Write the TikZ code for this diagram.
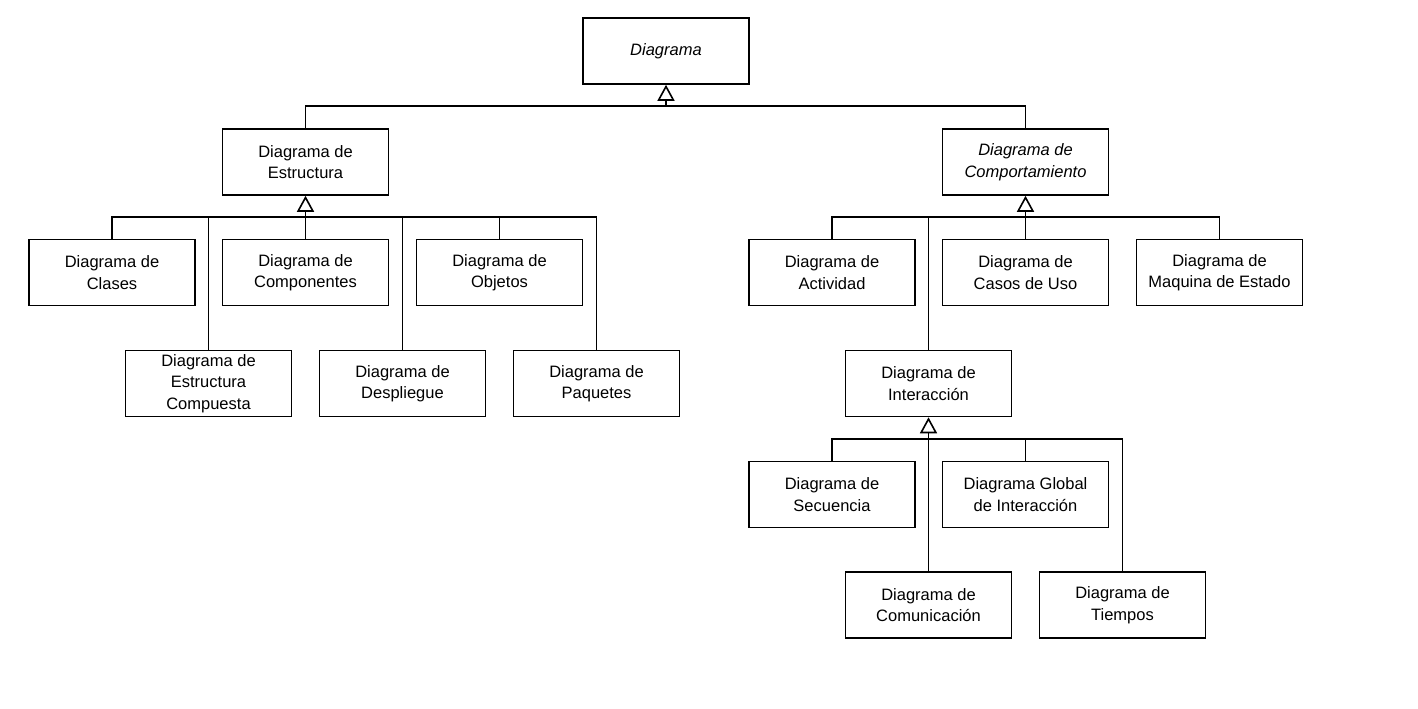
\documentclass[tikz,border=0pt]{standalone}
\usepackage{fontspec}
\setmainfont{Liberation Sans}
\usetikzlibrary{arrows.meta}
\begin{document}
\begin{tikzpicture}[x=1pt,y=-1pt,
  box/.style={draw,line width=1.6pt,minimum width=166pt,minimum height=66pt,inner sep=0pt,align=center,font=\fontsize{16.5}{21.5}\selectfont},
  conn/.style={line width=1.6pt},
  gen/.style={line width=1.6pt,-{Triangle[open,length=16pt,width=17pt,line width=1.6pt]}}]
\useasboundingbox (0,0) rectangle (1418,709);
% top
\node[box] (d) at (666,51) {\textit{Diagrama}};
\node[box] (est) at (305.5,162) {Diagrama de\\Estructura};
\node[box] (comp) at (1025.5,162) {\textit{Diagrama de}\\\textit{Comportamiento}};
% structure children
\node[box] (cla) at (112,272.5) {Diagrama de\\Clases};
\node[box] (cmp) at (305.5,272.5) {Diagrama de\\Componentes};
\node[box] (obj) at (499.5,272.5) {Diagrama de\\Objetos};
\node[box] (ecm) at (208.5,383.5) {Diagrama de\\Estructura\\Compuesta};
\node[box] (des) at (402.5,383.5) {Diagrama de\\Despliegue};
\node[box] (paq) at (596.5,383.5) {Diagrama de\\Paquetes};
% behaviour children
\node[box] (act) at (832,272.5) {Diagrama de\\Actividad};
\node[box] (cas) at (1025.5,272.5) {Diagrama de\\Casos de Uso};
\node[box] (maq) at (1219.5,272.5) {Diagrama de\\Maquina de Estado};
\node[box] (int) at (928.5,383.5) {Diagrama de\\Interacción};
% interaction children
\node[box] (sec) at (832,494.5) {Diagrama de\\Secuencia};
\node[box] (glo) at (1025.5,494.5) {Diagrama Global\\de Interacción};
\node[box] (com) at (928.5,605) {Diagrama de\\Comunicación};
\node[box] (tie) at (1122.5,605) {Diagrama de\\Tiempos};
% bars
\coordinate (b0) at (666,106);
\coordinate (b1) at (305.5,217);
\coordinate (b2) at (1025.5,217);
\coordinate (b3) at (928.5,439);
% level 0
\draw[conn] (est.north) -- (est.north |- b0) -- (comp.north |- b0) -- (comp.north);
\draw[gen] (b0) -- (d.south);
% structure
\draw[conn] (cla.north) -- (cla.north |- b1) -- (paq.north |- b1) -- (paq.north);
\draw[conn] (ecm.north) -- (ecm.north |- b1);
\draw[conn] (cmp.north) -- (cmp.north |- b1);
\draw[conn] (des.north) -- (des.north |- b1);
\draw[conn] (obj.north) -- (obj.north |- b1);
\draw[gen] (b1) -- (est.south);
% behaviour
\draw[conn] (act.north) -- (act.north |- b2) -- (maq.north |- b2) -- (maq.north);
\draw[conn] (int.north) -- (int.north |- b2);
\draw[conn] (cas.north) -- (cas.north |- b2);
\draw[gen] (b2) -- (comp.south);
% interaction
\draw[conn] (sec.north) -- (sec.north |- b3) -- (tie.north |- b3) -- (tie.north);
\draw[conn] (com.north) -- (com.north |- b3);
\draw[conn] (glo.north) -- (glo.north |- b3);
\draw[gen] (b3) -- (int.south);
\end{tikzpicture}
\end{document}
